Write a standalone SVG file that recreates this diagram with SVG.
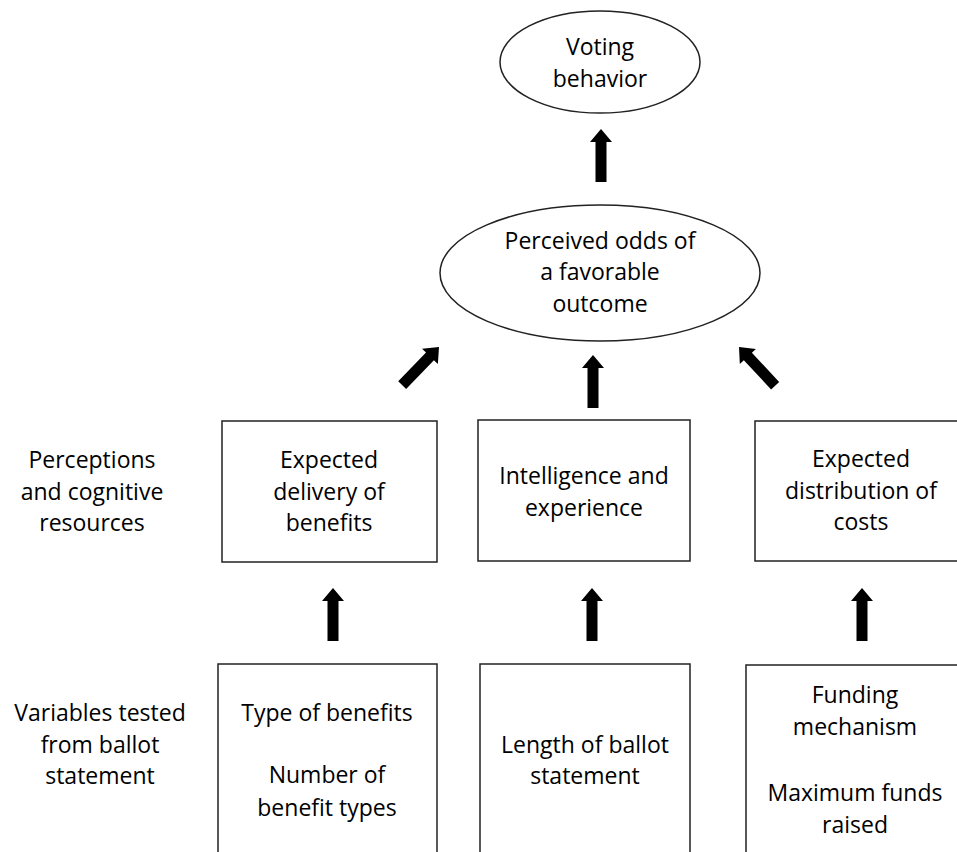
<svg xmlns="http://www.w3.org/2000/svg" xmlns:xlink="http://www.w3.org/1999/xlink" width="957" height="852" viewBox="0 0 957 852">
<style>
  .node { fill: #ffffff; stroke: #222222; stroke-width: 1.5; }
  .t { font-family: "Open Sans", "Liberation Sans", sans-serif; font-size: 23px; fill: #000000; text-anchor: middle; }
  .arr { fill: #000000; }
</style>
<defs>
  <path id="arrow" d="M0,0 L11,13 L5.5,13 L5.5,53 L-5.5,53 L-5.5,13 L-11,13 Z"/>
</defs>
<rect width="957" height="852" fill="#ffffff"/>

<g id="connectors" class="arr">
  <use xlink:href="#arrow" transform="translate(601,129)"/>
  <use xlink:href="#arrow" transform="translate(593,355)"/>
  <use xlink:href="#arrow" transform="translate(439,347) rotate(44)"/>
  <use xlink:href="#arrow" transform="translate(739,347) rotate(-43)"/>
  <use xlink:href="#arrow" transform="translate(333,588)"/>
  <use xlink:href="#arrow" transform="translate(592,588)"/>
  <use xlink:href="#arrow" transform="translate(862,588)"/>
</g>

<g id="voting">
  <ellipse class="node" cx="600" cy="62" rx="100" ry="51"/>
  <text class="t" x="600" y="55">Voting</text>
  <text class="t" x="600" y="87">behavior</text>
</g>

<g id="odds">
  <ellipse class="node" cx="600" cy="273" rx="160" ry="68"/>
  <text class="t" x="600" y="249">Perceived odds of</text>
  <text class="t" x="600" y="280">a favorable</text>
  <text class="t" x="600" y="312">outcome</text>
</g>

<g id="label-perceptions">
  <text class="t" x="92" y="468">Perceptions</text>
  <text class="t" x="92" y="500">and cognitive</text>
  <text class="t" x="92" y="531">resources</text>
</g>

<g id="label-variables">
  <text class="t" x="100" y="721">Variables tested</text>
  <text class="t" x="100" y="753">from ballot</text>
  <text class="t" x="100" y="784">statement</text>
</g>

<g id="delivery">
  <rect class="node" x="222" y="421" width="215" height="141"/>
  <text class="t" x="329" y="468">Expected</text>
  <text class="t" x="329" y="500">delivery of</text>
  <text class="t" x="329" y="531">benefits</text>
</g>

<g id="intelligence">
  <rect class="node" x="478" y="420" width="212" height="141"/>
  <text class="t" x="584" y="484">Intelligence and</text>
  <text class="t" x="584" y="516">experience</text>
</g>

<g id="costs">
  <rect class="node" x="755" y="421" width="210" height="140"/>
  <text class="t" x="861" y="467">Expected</text>
  <text class="t" x="861" y="499">distribution of</text>
  <text class="t" x="861" y="530">costs</text>
</g>

<g id="type-benefits">
  <rect class="node" x="218" y="664" width="219" height="200"/>
  <text class="t" x="327" y="721">Type of benefits</text>
  <text class="t" x="327" y="783">Number of</text>
  <text class="t" x="327" y="816">benefit types</text>
</g>

<g id="length">
  <rect class="node" x="480" y="664" width="210" height="200"/>
  <text class="t" x="585" y="753">Length of ballot</text>
  <text class="t" x="585" y="784">statement</text>
</g>

<g id="funding">
  <rect class="node" x="746" y="665" width="220" height="200"/>
  <text class="t" x="855" y="703">Funding</text>
  <text class="t" x="855" y="735">mechanism</text>
  <text class="t" x="855" y="801">Maximum funds</text>
  <text class="t" x="855" y="833">raised</text>
</g>
</svg>
